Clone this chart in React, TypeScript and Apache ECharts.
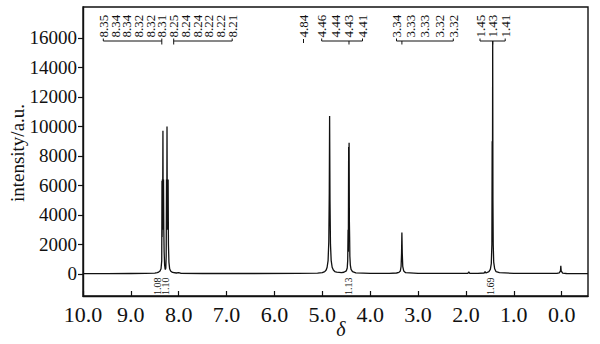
import React, { useEffect, useRef } from "react";
import * as echarts from "echarts";

const FONT = "'Liberation Serif', 'Times New Roman', serif";

// axis ticks
const xTickValues = [0, 1, 2, 3, 4, 5, 6, 7, 8, 9, 10];
const yTickValues = [0, 2000, 4000, 6000, 8000, 10000, 12000, 14000, 16000];

// spectrum: [delta (ppm), intensity]
const spectrum: [number, number][] = [
  [10.0, 20], [9.5, 20], [9.0, 25], [8.7, 30], [8.5, 50], [8.45, 80], [8.42, 120],
  [8.39, 200], [8.37, 350], [8.355, 900], [8.35, 6300], [8.347, 2500], [8.342, 6400],
  [8.337, 3000], [8.33, 9700], [8.325, 4000], [8.318, 6400], [8.312, 3000], [8.305, 1500],
  [8.295, 600], [8.285, 350], [8.28, 300], [8.27, 400], [8.262, 1200], [8.255, 6400],
  [8.25, 3000], [8.245, 10000], [8.24, 4500], [8.235, 6400], [8.228, 3000], [8.222, 6400],
  [8.215, 2000], [8.205, 800], [8.19, 350], [8.17, 200], [8.13, 100], [8.05, 60], [8.0, 90],
  [7.95, 40], [7.5, 25], [6.5, 25], [5.5, 30], [5.1, 50], [5.0, 80], [4.95, 150], [4.92, 260],
  [4.9, 450], [4.88, 900], [4.865, 2200], [4.855, 5500], [4.848, 10700], [4.84, 5000],
  [4.83, 2000], [4.815, 900], [4.795, 450], [4.77, 260], [4.74, 160], [4.7, 120], [4.6, 90],
  [4.55, 110], [4.5, 200], [4.48, 400], [4.47, 900], [4.462, 3000], [4.457, 1500],
  [4.45, 8600], [4.446, 4000], [4.441, 8900], [4.435, 3500], [4.43, 2500], [4.425, 1200],
  [4.415, 600], [4.4, 300], [4.37, 150], [4.3, 70], [4.0, 40], [3.6, 40], [3.45, 60],
  [3.4, 100], [3.37, 200], [3.355, 500], [3.345, 1400], [3.338, 2800], [3.33, 1400],
  [3.32, 500], [3.3, 200], [3.26, 80], [3.0, 40], [2.5, 30], [2.0, 30], [1.96, 40],
  [1.94, 130], [1.92, 40], [1.75, 40], [1.62, 60], [1.6, 150], [1.58, 60], [1.52, 150],
  [1.49, 300], [1.47, 700], [1.458, 2000], [1.452, 9000], [1.447, 4000], [1.441, 15800],
  [1.436, 5000], [1.43, 2000], [1.42, 800], [1.4, 350], [1.37, 150], [1.3, 80], [1.0, 40],
  [0.5, 30], [0.1, 40], [0.05, 70], [0.025, 200], [0.018, 550], [0.01, 200], [-0.02, 50],
  [-0.1, 25], [-0.55, 20],
];

// peak-label groups (texts) and the shift each bracket points to
const labelsA = ["8.35", "8.34", "8.34", "8.32", "8.32", "8.31"];
const labelsB = ["8.25", "8.24", "8.24", "8.22", "8.22", "8.21"];
const labelsC = ["4.84"];
const labelsD = ["4.46", "4.44", "4.43", "4.41"];
const labelsE = ["3.34", "3.33", "3.33", "3.32", "3.32"];
const labelsF = ["1.45", "1.43", "1.41"];
const peakShifts = [8.33, 8.238, 4.848, 4.443, 3.338, 1.441];

// integration values
const integrals = ["1.08", "1.10", "1.13", "1.69"];
const integralShifts = [8.33, 8.238, 4.443, 1.441];

export default function App() {
  const ref = useRef<HTMLDivElement>(null);

  useEffect(() => {
    if (!ref.current) return;
    const chart = echarts.init(ref.current, null, { renderer: "svg" });
    const axisLine = { show: true, onZero: false, lineStyle: { color: "#111", width: 1.4 } };
    chart.setOption({
      animation: false,
      backgroundColor: "#fff",
      grid: {
        left: 83, right: 12, top: 7, bottom: 48,
        outerBoundsMode: "none",
        containLabel: false,
        show: true, borderColor: "#111", borderWidth: 1.4,
      },
      xAxis: {
        type: "value",
        inverse: true,
        min: -0.55,
        max: 10,
        axisLine,
        splitLine: { show: false },
        axisTick: { show: true, inside: true, length: 5, customValues: xTickValues, lineStyle: { color: "#111", width: 1.2 } },
        axisLabel: {
          customValues: xTickValues,
          formatter: (v: number) => v.toFixed(1),
          fontSize: 22, fontFamily: FONT, color: "#111", margin: 7,
        },
      },
      yAxis: {
        type: "value",
        min: -1500,
        max: 18100,
        axisLine,
        splitLine: { show: false },
        axisTick: { show: true, inside: false, length: 5, customValues: yTickValues, lineStyle: { color: "#111", width: 1.2 } },
        axisLabel: {
          customValues: yTickValues,
          formatter: (v: number) => String(v),
          fontSize: 19, fontFamily: FONT, color: "#111", margin: 6,
        },
      },
      series: [
        {
          type: "line",
          data: spectrum,
          showSymbol: false,
          symbol: "none",
          lineStyle: { color: "#111", width: 1.3 },
        },
      ],
    });

    const px = (d: number) => chart.convertToPixel({ xAxisIndex: 0 }, d) as number;

    // layout of the label columns: [first column x, spacing]
    const groups: { labels: string[]; first: number; step: number }[] = [
      { labels: labelsA, first: 103.3, step: 11.7 },
      { labels: labelsB, first: 173.7, step: 11.7 },
      { labels: labelsC, first: 303.5, step: 0 },
      { labels: labelsD, first: 321.7, step: 13.6 },
      { labels: labelsE, first: 396.5, step: 14.2 },
      { labels: labelsF, first: 480, step: 12.6 },
    ];
    const LABEL_BOTTOM = 37.5;
    const BRACKET_Y = 41;
    const lineStyle = { stroke: "#111", lineWidth: 1 };
    const graphic: any[] = [];
    groups.forEach((g, gi) => {
      const xs = g.labels.map((_, i) => g.first + i * g.step);
      g.labels.forEach((t, i) => {
        graphic.push({
          type: "text", x: xs[i], y: LABEL_BOTTOM, rotation: Math.PI / 2, silent: true,
          style: { text: t, x: 0, y: 0, align: "left", verticalAlign: "middle", fontSize: 13, fontFamily: FONT, fill: "#111" },
        });
      });
      const peakX = px(peakShifts[gi]);
      if (xs.length > 1) {
        graphic.push({ type: "line", silent: true, shape: { x1: xs[0], y1: BRACKET_Y, x2: xs[xs.length - 1], y2: BRACKET_Y }, style: lineStyle });
        graphic.push({ type: "line", silent: true, shape: { x1: xs[0], y1: BRACKET_Y - 2.5, x2: xs[0], y2: BRACKET_Y }, style: lineStyle });
        graphic.push({ type: "line", silent: true, shape: { x1: xs[xs.length - 1], y1: BRACKET_Y - 2.5, x2: xs[xs.length - 1], y2: BRACKET_Y }, style: lineStyle });
        const cx = Math.min(Math.max(peakX, xs[0]), xs[xs.length - 1]);
        graphic.push({ type: "line", silent: true, shape: { x1: cx, y1: BRACKET_Y, x2: cx, y2: BRACKET_Y + 3.5 }, style: lineStyle });
      } else {
        graphic.push({ type: "line", silent: true, shape: { x1: xs[0], y1: BRACKET_Y - 2, x2: xs[0], y2: BRACKET_Y + 2 }, style: lineStyle });
      }
    });

    // integration labels under the baseline
    const integralOffsets = [-5, -1.5, 0, -2];
    integrals.forEach((t, i) => {
      const x = px(integralShifts[i]) + integralOffsets[i];
      graphic.push({
        type: "text", x, y: 295, rotation: Math.PI / 2, silent: true,
        style: { text: t, x: 0, y: 0, align: "left", verticalAlign: "middle", fontSize: 10, fontFamily: FONT, fill: "#111" },
      });
    });

    // axis names
    graphic.push({
      type: "text", x: 17, y: 153, rotation: Math.PI / 2, silent: true,
      style: { text: "intensity/a.u.", x: 0, y: 0, align: "center", verticalAlign: "middle", fontSize: 19, fontFamily: FONT, fill: "#111" },
    });
    graphic.push({
      type: "text", x: 341, y: 329, silent: true,
      style: { text: "δ", x: 0, y: 0, align: "center", verticalAlign: "middle", fontSize: 20, fontStyle: "italic", fontFamily: FONT, fill: "#111" },
    });

    chart.setOption({ graphic });
    return () => chart.dispose();
  }, []);

  return (
    <div
      ref={ref}
      style={{ position: "fixed", left: 0, top: 0, width: 600, height: 344, background: "#fff" }}
    />
  );
}
